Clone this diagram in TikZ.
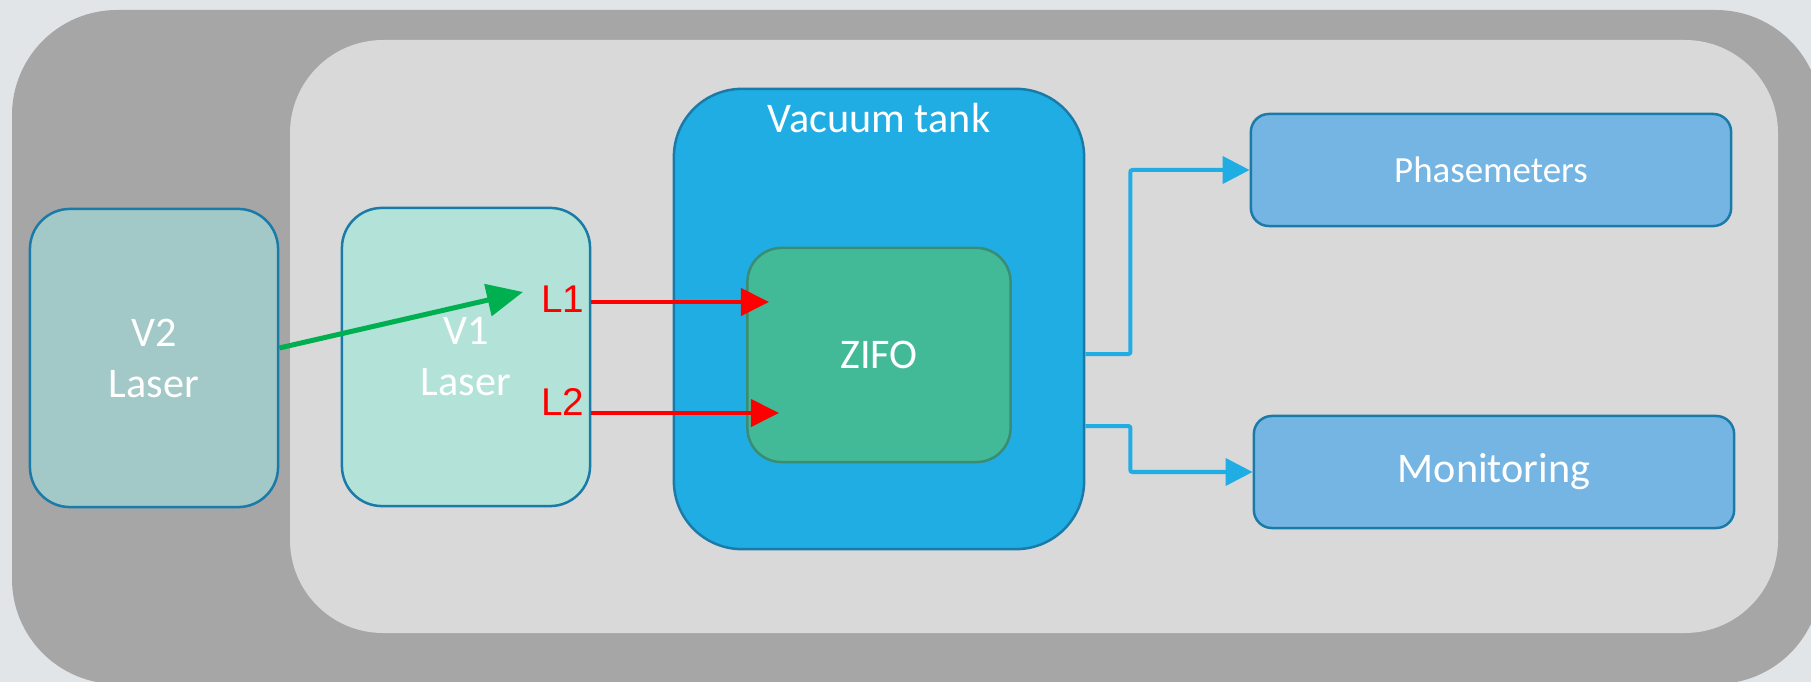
\documentclass[tikz,border=0pt]{standalone}
\usepackage{fontspec}
\setmainfont{Carlito}
\newfontfamily\arialfont{Liberation Sans}
\usepackage{xcolor}
\usepackage{tikz}
\usetikzlibrary{arrows.meta, positioning}
\definecolor{pagebg}{HTML}{E1E5E8}
\definecolor{outergray}{HTML}{A6A6A6}
\definecolor{innergray}{HTML}{D9D9D9}
\definecolor{boxline}{HTML}{1B7BA8}
\definecolor{zifoline}{HTML}{3A8C72}
\definecolor{vtwofill}{HTML}{A2C8C7}
\definecolor{vonefill}{HTML}{B3E3D8}
\definecolor{tankfill}{HTML}{1FADE3}
\definecolor{zifofill}{HTML}{43BA97}
\definecolor{outfill}{HTML}{75B5E3}
\definecolor{beamgreen}{HTML}{00B050}
\tikzset{
  blkbox/.style={draw=boxline,line width=0.025cm,text=white,align=center,inner sep=0pt,
    font=\fontsize{12}{14.5}\selectfont},
  lasernode/.style={blkbox,rounded corners=0.4cm,minimum width=2.48cm,minimum height=2.98cm},
  tanknode/.style={blkbox,fill=tankfill,rounded corners=0.68cm,minimum width=4.10cm,minimum height=4.60cm},
  zifonode/.style={blkbox,draw=zifoline,fill=zifofill,rounded corners=0.34cm,minimum width=2.63cm,minimum height=2.14cm},
  outnode/.style={blkbox,fill=outfill,rounded corners=0.18cm,minimum width=4.80cm,minimum height=1.12cm},
  beamlbl/.style={text=red,inner sep=0pt,font=\arialfont\fontsize{11}{13}\selectfont},
  redbeam/.style={-{Triangle[length=0.28cm,width=0.27cm]},draw=red,line width=0.04cm},
  greenbeam/.style={-{Triangle[length=0.36cm,width=0.32cm]},draw=beamgreen,line width=0.05cm},
  sigedge/.style={-{Triangle[length=0.27cm,width=0.27cm]},draw=tankfill,line width=0.04cm,rounded corners=0.02cm},
}
\begin{document}
\begin{tikzpicture}[x=0.01cm,y=-0.01cm]
  \useasboundingbox (0,0) rectangle (1811,682);
  \clip (0,0) rectangle (1811,682);
  \fill[pagebg] (0,0) rectangle (1811,682);
  \fill[outergray,rounded corners=1.05cm] (12,10) rectangle (1821,684);
  \fill[innergray,rounded corners=0.93cm] (290,40) rectangle (1778,633);
  \node[lasernode,fill=vtwofill] (nV2) at (154,358) {V2\\Laser};
  \node[lasernode,fill=vonefill] (nV1) at (466,357) {V1\\Laser};
  \node[tanknode] (nTank) at (879,319) {};
  \node[blkbox,draw=none] (nTankLbl) at (879,118) {Vacuum tank};
  \node[zifonode] (nZifo) at (879,355) {ZIFO};
  \node[outnode] (nPhase) at (1491,170) {\fontsize{10.5}{13}\selectfont Phasemeters};
  \node[outnode] (nMon) at (1494,472) {Monitoring};
  \node[beamlbl,anchor=east] (nL1) at (585,299) {L1};
  \node[beamlbl,anchor=east] (nL2) at (585,402) {L2};
  \coordinate (cT1) at (769,302);
  \coordinate (cT2) at (779,413);
  \coordinate (cG) at (523,292);
  \draw[greenbeam] ([yshift=0.1cm]nV2.east) -- (cG);
  \draw[redbeam] (nV1.east |- cT1) -- (cT1);
  \draw[redbeam] (nV1.east |- cT2) -- (cT2);
  \draw[sigedge] ([yshift=-0.35cm]nTank.east) -- ++(45,0) |- (nPhase.west);
  \draw[sigedge] ([yshift=-1.07cm]nTank.east) -- ++(45,0) |- (nMon.west);
\end{tikzpicture}
\end{document}
